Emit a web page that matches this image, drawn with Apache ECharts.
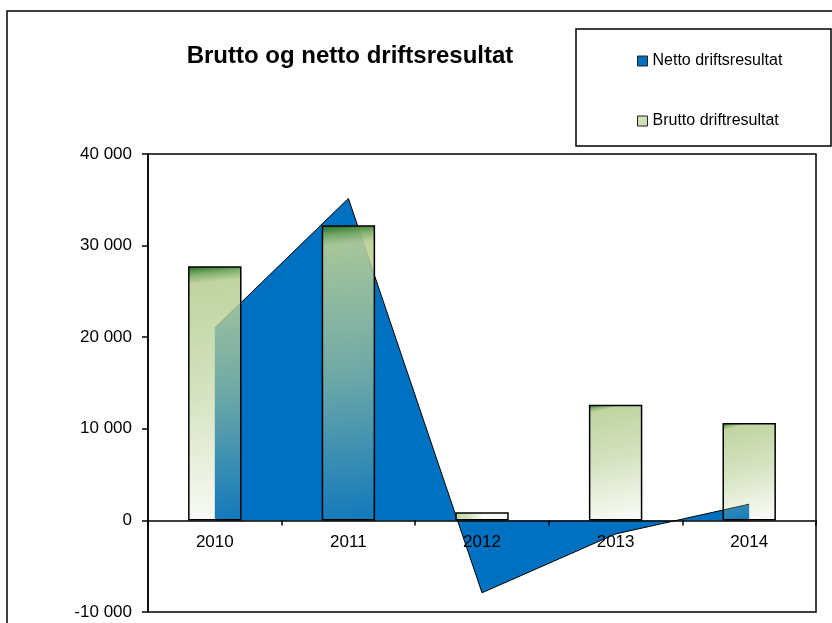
<!DOCTYPE html>
<html>
<head>
<meta charset="utf-8">
<script src="https://cdn.jsdelivr.net/npm/echarts@6/dist/echarts.min.js"></script>
<style>
html,body{margin:0;padding:0;background:#fff;}
#chart{width:832px;height:623px;}
</style>
</head>
<body>
<div id="chart"></div>
<script>
const categories = ['2010', '2011', '2012', '2013', '2014'];
const nettoValues = [21000, 35150, -7900, -1480, 1770];
const bruttoValues = [27740, 32220, 900, 12620, 10620];
const yTicks = { min: -10000, max: 40000, interval: 10000 };

const FONT = 'Liberation Sans, Arial, sans-serif';
const fmt = v => String(v).replace(/\B(?=(\d{3})+(?!\d))/g, ' ');

const W = 832, H = 623;
const GRID = { left: 148, top: 154, right: 16, bottom: 11 };
const gridH = H - GRID.top - GRID.bottom;
// move the category axis (line, ticks, labels) up to the zero level of the value axis
const zeroOffset = -gridH * (0 - yTicks.min) / (yTicks.max - yTicks.min);

const chart = echarts.init(document.getElementById('chart'), null, { renderer: 'canvas' });

const barGradient = new echarts.graphic.LinearGradient(0, 0, 0.5, 1, [
  { offset: 0, color: 'rgba(30,105,30,1)' },
  { offset: 0.035, color: 'rgba(120,170,100,0.95)' },
  { offset: 0.07, color: 'rgba(185,207,150,0.9)' },
  { offset: 0.5, color: 'rgba(185,207,150,0.6)' },
  { offset: 1, color: 'rgba(185,207,150,0.1)' }
]);

chart.setOption({
  animation: false,
  backgroundColor: '#fff',
  textStyle: { fontFamily: FONT },
  title: {
    text: 'Brutto og netto driftsresultat',
    left: 345,
    textAlign: 'center',
    top: 39,
    textStyle: { fontFamily: FONT, fontSize: 24, fontWeight: 'bold', color: '#000' }
  },
  graphic: [
    { type: 'rect', shape: { x: 7, y: 11, width: 900, height: 700 },
      style: { fill: 'none', stroke: '#000', lineWidth: 1.5 }, z: -1 },
    { type: 'rect', shape: { x: 576, y: 29, width: 255, height: 117 },
      style: { fill: 'none', stroke: '#000', lineWidth: 1.5 }, z: -1 }
  ],
  legend: {
    orient: 'vertical',
    left: 632,
    top: 48,
    itemGap: 44,
    itemWidth: 10,
    itemHeight: 10,
    icon: 'rect',
    textStyle: { fontFamily: FONT, fontSize: 16, color: '#000' },
    data: [
      { name: 'Netto driftsresultat', itemStyle: { color: '#0070C0', borderColor: '#222', borderWidth: 1 } },
      { name: 'Brutto driftresultat', itemStyle: { color: '#cfdfb6', borderColor: '#222', borderWidth: 1 } }
    ]
  },
  grid: {
    left: GRID.left, top: GRID.top, right: GRID.right, bottom: GRID.bottom,
    outerBoundsMode: 'none',
    containLabel: false,
    show: true, borderColor: '#000', borderWidth: 1.5
  },
  xAxis: {
    type: 'category',
    data: categories,
    boundaryGap: true,
    position: 'bottom',
    offset: zeroOffset,
    z: 10,
    axisLine: { onZero: false, lineStyle: { color: '#000', width: 1.5 } },
    axisTick: { show: true, alignWithLabel: false, length: 5, lineStyle: { color: '#000', width: 1.5 } },
    axisLabel: { margin: 13, fontFamily: FONT, fontSize: 17, color: '#000' },
    splitLine: { show: false }
  },
  yAxis: {
    type: 'value',
    min: yTicks.min,
    max: yTicks.max,
    interval: yTicks.interval,
    axisLine: { show: true, lineStyle: { color: '#000', width: 1.5 } },
    axisTick: { show: true, length: 6, lineStyle: { color: '#000', width: 1.5 } },
    axisLabel: { margin: 16, fontFamily: FONT, fontSize: 17, color: '#000', formatter: fmt },
    splitLine: { show: false }
  },
  series: [
    {
      name: 'Netto driftsresultat',
      type: 'line',
      data: nettoValues,
      symbol: 'none',
      itemStyle: { color: '#0070C0' },
      lineStyle: { color: '#000', width: 1 },
      areaStyle: { color: '#0070C0', opacity: 1 },
      z: 2
    },
    {
      name: 'Brutto driftresultat',
      type: 'bar',
      data: bruttoValues,
      barWidth: '40%',
      itemStyle: { color: barGradient, borderColor: '#000', borderWidth: 1.5 },
      z: 3
    }
  ]
});
</script>
</body>
</html>
